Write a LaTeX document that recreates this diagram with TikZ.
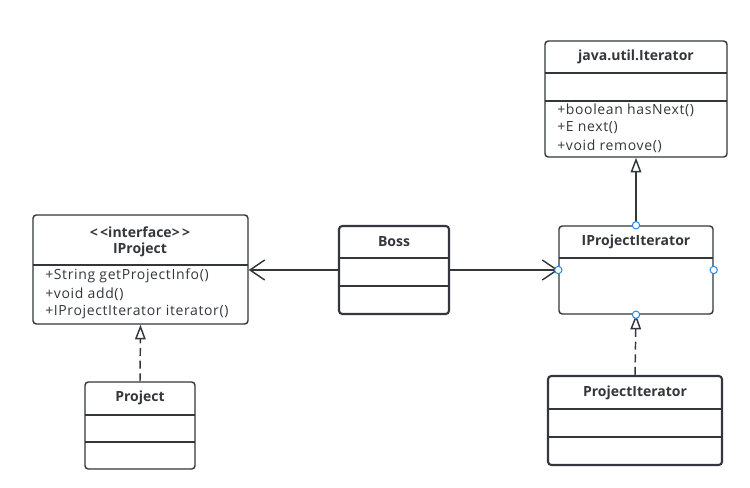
\documentclass[tikz,border=0pt]{standalone}
\usepackage{fontspec}
\setmainfont{Open Sans}
\newfontfamily\memberfont[LetterSpace=4.5]{Open Sans}
\usetikzlibrary{arrows.meta, fit}

\definecolor{linec}{RGB}{51,55,60}
\definecolor{portblue}{RGB}{30,136,240}

\tikzset{
    classbox/.style = {draw=linec, line width=1.1pt, rounded corners=2.5pt, inner sep=0pt},
    boldbox/.style = {classbox, line width=1.6pt},
    title/.style = {font=\fontsize{10.5}{12}\selectfont\bfseries, text=linec, inner sep=0pt},
    member/.style = {font=\memberfont\fontsize{10.5}{12}\selectfont, text=linec, anchor=west, inner sep=0pt},
    port/.style = {circle, draw=portblue, fill=white, line width=0.75pt, minimum size=5.5pt, inner sep=0pt},
    divider/.style = {draw=linec, line width=1.1pt},
    assoc/.style = {draw=linec, line width=1.1pt, -{Straight Barb[length=11pt, width=15pt, line width=1.1pt]}},
    realize/.style = {draw=linec, line width=1.1pt, -{Triangle[open, length=11pt, width=8pt, line width=1.1pt]}},
}

\begin{document}
\begin{tikzpicture}[x=0.75pt, y=-0.75pt]
    \useasboundingbox (0,0) rectangle (750,488);

    % java.util.Iterator
    \node[classbox, fit={(545,41) (727,157)}] (iter) {};
    \node[title] (iterT) at (636,57) {java.util.Iterator};
    \draw[divider] (545,73) -- (727,73);
    \draw[divider] (545,101) -- (727,101);
    \node[member] (iterA) at (557,110) {+boolean hasNext()};
    \node[member] (iterB) at (557,128) {+E next()};
    \node[member] (iterC) at (557,146) {+void remove()};

    % IProjectIterator
    \node[classbox, fit={(559,226) (713,314)}] (pit) {};
    \node[title] (pitT) at (636,242) {IProjectIterator};
    \draw[divider] (559,258) -- (713,258);

    % ProjectIterator
    \node[boldbox, fit={(548,376) (722,465)}] (prit) {};
    \node[title] (pritT) at (635,393) {ProjectIterator};
    \draw[divider] (548,409) -- (722,409);
    \draw[divider] (548,437) -- (722,437);

    % Boss
    \node[boldbox, fit={(339,226) (449,314)}] (boss) {};
    \node[title] (bossT) at (394,242) {Boss};
    \draw[divider] (339,258) -- (449,258);
    \draw[divider] (339,286) -- (449,286);

    % IProject
    \node[classbox, fit={(33,215) (248,324)}] (iproj) {};
    \node[title] (iprojS) at (140,232) {<\,<interface>\,>};
    \node[title] (iprojT) at (140,250) {IProject};
    \draw[divider] (33,265) -- (248,265);
    \node[member] (iprojA) at (45,276) {+String getProjectInfo()};
    \node[member] (iprojB) at (45,294) {+void add()};
    \node[member] (iprojC) at (45,312) {+IProjectIterator iterator()};

    % Project
    \node[classbox, fit={(85,382) (195,469)}] (proj) {};
    \node[title] (projT) at (140,398) {Project};
    \draw[divider] (85,415) -- (195,415);
    \draw[divider] (85,442) -- (195,442);

    % connectors
    \draw[assoc] (boss.west) -- (iproj.east |- boss.west);
    \draw[assoc] (boss.east) -- (pit.west);
    \draw[realize] (pit.north) -- (iter.south);
    \draw[realize, dash pattern=on 6pt off 3.5pt] (prit.north) -- (pit.south);
    \draw[realize, dash pattern=on 6pt off 3.5pt] (proj.north) -- (iproj.south);

    % ports
    \node[port] (pN) at (pit.north) {};
    \node[port] (pW) at (pit.west) {};
    \node[port] (pE) at (pit.east) {};
    \node[port] (pS) at (pit.south) {};
\end{tikzpicture}
\end{document}
